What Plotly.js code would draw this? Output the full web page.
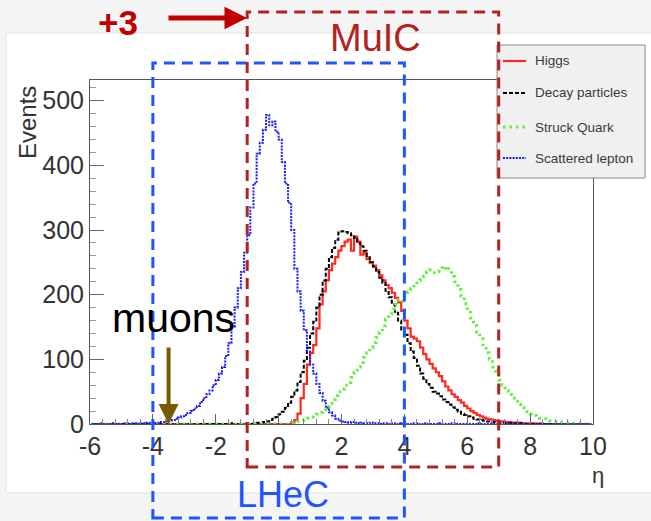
<!DOCTYPE html>
<html>
<head>
<meta charset="utf-8">
<script src="https://cdn.plot.ly/plotly-3.0.1.min.js"></script>
<style>html,body{margin:0;padding:0;background:#f5f5f5;}#chart{width:651px;height:521px;}</style>
</head>
<body>
<div id="chart"></div>
<script>
// ---- binning (160 bins of width 0.1 in eta from -6 to 10) ----
const etaLow = -6;
const etaBinWidth = 0.1;

// ---- series values (events per bin), rows = one unit of eta ----
const higgs = [
  0,0,0,0,0,0,0,0,0,0,
  0,0,0,0,0,0,0,0,0,0,
  0,0,0,0,0,0,0,0,0,0,
  0,0,0,0,0,0,0,0,0,0,
  0,0,0,0,0,0,0,0,0,0,
  0,0,0,0,0,0,0,0,0,0,
  0,0,0,0,2,6,16,40,62,92,
  110,122,148,185,205,222,238,248,258,268,
  275,282,285,268,290,282,262,265,255,250,
  245,238,230,222,215,210,203,195,188,175,
  160,148,135,132,128,118,108,100,93,86,
  80,74,66,58,52,46,42,37,33,28,
  24,20,17,14,12,10,8,7,6,5,
  4,4,3,3,2,2,2,1,1,1,
  1,1,0,1,0,0,0,0,0,0,
  0,0,0,0,0,0,0,0,0,0
];
const decayParticles = [
  0,0,0,0,0,0,0,0,0,0,
  0,0,0,0,0,0,0,0,0,0,
  0,0,0,0,0,0,0,0,0,0,
  0,0,0,0,0,0,0,0,0,0,
  0,0,0,0,0,1,0,0,0,1,
  1,0,1,2,2,3,4,6,8,11,
  15,19,25,33,42,52,65,80,98,118,
  140,158,180,200,222,240,258,272,285,296,
  298,297,295,292,288,280,275,268,258,250,
  243,235,226,218,206,196,185,172,160,146,
  138,125,112,102,90,78,70,62,56,50,
  47,43,38,34,30,26,22,19,16,14,
  12,10,8,7,6,5,4,4,3,2,
  2,2,1,1,1,1,0,1,0,0,
  0,0,0,0,0,0,0,0,0,0,
  0,0,0,0,0,0,0,0,0,0
];
const struckQuark = [
  0,0,0,0,0,0,0,0,0,0,
  0,0,0,0,0,0,0,0,0,0,
  0,0,0,0,0,0,0,0,0,0,
  0,0,0,0,0,0,0,0,0,0,
  0,0,0,0,0,0,0,0,0,0,
  0,0,0,0,0,0,0,0,0,0,
  0,0,0,0,1,2,4,6,7,9,
  11,13,15,18,22,26,32,38,44,50,
  54,60,64,72,80,88,95,103,110,118,
  126,134,142,152,162,170,178,185,192,190,
  198,204,210,216,222,228,232,236,238,234,
  236,240,244,238,240,228,220,208,198,186,
  176,164,152,142,132,120,110,100,88,78,
  68,60,52,46,40,35,30,26,22,19,
  16,13,11,9,8,6,5,4,4,3,
  2,2,2,1,1,1,1,0,1,0
];
const scatteredLepton = [
  0,0,0,1,0,0,0,1,0,0,
  0,1,0,1,1,0,1,1,2,1,
  2,2,3,3,4,5,6,8,10,12,
  14,17,20,24,28,34,40,46,52,60,
  68,78,88,105,125,150,180,210,235,265,
  292,335,372,418,435,455,478,462,468,452,
  440,405,372,342,300,240,205,175,145,112,
  92,78,62,48,36,25,18,13,8,5,
  4,3,2,3,2,1,2,1,1,2,
  1,1,0,1,1,0,1,0,1,0,
  1,0,0,1,0,0,1,0,0,0,
  0,1,0,0,0,1,0,0,0,0,
  0,0,0,1,0,0,0,0,0,0,
  0,0,0,0,0,0,1,0,0,0,
  0,0,0,0,0,0,0,0,0,0,
  0,0,0,0,0,0,0,0,0,0
];

const seriesNames = ['Higgs', 'Decay particles', 'Struck Quark', 'Scattered lepton'];
const xTickVals = [-6, -4, -2, 0, 2, 4, 6, 8, 10];
const xTickText = ['-6', '-4', '-2', '0', '2', '4', '6', '8', '10'];
const yTickVals = [0, 100, 200, 300, 400, 500];
const yTickText = ['0', '100', '200', '300', '400', '500'];
const lhecRange = [-4, 4];
const muicRange = [-1, 7];
const muonArrowEta = -3.5;

// ---- geometry helpers (layout in pixels -> paper coords) ----
const W = 651, H = 521;
const M = {l: 90, r: 58, t: 80, b: 97};
const pw = W - M.l - M.r, ph = H - M.t - M.b;
const xRange = [-6, 10];
const yRange = [0, 532];
const px = p => (p - M.l) / pw;
const py = p => (H - M.b - p) / ph;
const ex = eta => (eta - xRange[0]) / (xRange[1] - xRange[0]);

const etaCenters = higgs.map((_, i) => etaLow + (i + 0.5) * etaBinWidth);

const styles = [
  {color: '#ff2a1f', width: 2.2, dash: 'solid'},
  {color: '#000000', width: 2, dash: '4px,2px'},
  {color: '#66ee44', width: 3, dash: '2.5px,4px'},
  {color: '#1a1aff', width: 2, dash: '2px,1.2px'}
];
const values = [higgs, decayParticles, struckQuark, scatteredLepton];

const traces = values.map((v, k) => ({
  type: 'scatter', mode: 'lines', x: etaCenters, y: v,
  name: seriesNames[k], line: {shape: 'hvh', color: styles[k].color, width: styles[k].width, dash: styles[k].dash},
  showlegend: false, hoverinfo: 'skip', cliponaxis: true
}));

const FONT = 'Liberation Sans, Arial, sans-serif';
const shapes = [];
// white ROOT canvas
shapes.push({type: 'rect', xref: 'paper', yref: 'paper', layer: 'below',
  x0: px(6), x1: px(652), y0: py(493), y1: py(33),
  fillcolor: '#ffffff', line: {color: '#e2e2e2', width: 1}});
// legend box
shapes.push({type: 'rect', xref: 'paper', yref: 'paper',
  x0: px(497), x1: px(645), y0: py(178), y1: py(45),
  fillcolor: '#f0f0f0', line: {color: '#8c8c8c', width: 1}});
const legendY = [61, 93, 127, 158];
const annotations = [];
const txt = (x, y, text, size, color, extra) => Object.assign({xref: 'paper', yref: 'paper', x: px(x), y: py(y),
  xanchor: 'center', yanchor: 'middle', showarrow: false, text: text,
  font: {family: FONT, size: size, color: color}}, extra || {});
seriesNames.forEach((n, k) => {
  shapes.push({type: 'line', xref: 'paper', yref: 'paper',
    x0: px(503), x1: px(526), y0: py(legendY[k]), y1: py(legendY[k]),
    line: {color: styles[k].color, width: styles[k].width, dash: styles[k].dash}});
  annotations.push(txt(533, legendY[k], n, 13.5, '#3a3a3a', {xanchor: 'left'}));
});
// LHeC box
shapes.push({type: 'rect', xref: 'paper', yref: 'paper',
  x0: ex(lhecRange[0]), x1: ex(lhecRange[1]), y0: py(518), y1: py(63),
  line: {color: '#1f55ff', width: 3, dash: '11px,7px'}, fillcolor: 'rgba(0,0,0,0)'});
// MuIC box
shapes.push({type: 'rect', xref: 'paper', yref: 'paper',
  x0: ex(muicRange[0]), x1: ex(muicRange[1]), y0: py(467), y1: py(12),
  line: {color: '#b3221e', width: 3, dash: '11px,7px'}, fillcolor: 'rgba(0,0,0,0)'});

// texts
annotations.push(txt(27, 123, 'Events', 24, '#333', {textangle: -90}));
annotations.push(txt(598, 475, 'η', 22, '#333'));
annotations.push(txt(375, 38, 'MuIC', 38, '#b3221e'));
annotations.push(txt(283, 494, 'LHeC', 36, '#1f55ff'));
annotations.push(txt(173, 318, 'muons', 41, '#000'));
annotations.push(txt(118, 23, '<b>+3</b>', 35, '#c00000'));
// arrows
annotations.push({xref: 'paper', yref: 'paper', x: px(247), y: py(18), ax: -80, ay: 0,
  showarrow: true, text: '', arrowhead: 2, arrowsize: 0.9, arrowwidth: 5, arrowcolor: '#c00000', standoff: 0});
annotations.push({xref: 'x', yref: 'y', x: muonArrowEta, y: 0, ax: 0, ay: -78,
  showarrow: true, text: '', arrowhead: 2, arrowsize: 1, arrowwidth: 4, arrowcolor: '#7a5a00', standoff: 0});

const axisFont = {family: FONT, size: 25, color: '#333'};
const layout = {
  width: W, height: H, margin: M,
  paper_bgcolor: '#f5f5f5', plot_bgcolor: '#ffffff',
  font: {family: FONT},
  xaxis: {range: xRange, showgrid: false, zeroline: false, showline: true, linecolor: '#555', linewidth: 1, mirror: true,
    tickmode: 'array', tickvals: xTickVals, ticktext: xTickText, ticks: 'inside', ticklen: 10, tickcolor: '#666', tickwidth: 1,
    tickfont: axisFont, minor: {dtick: 0.4, ticks: 'inside', ticklen: 5, tickcolor: '#888', showgrid: false}},
  yaxis: {range: yRange, showgrid: false, zeroline: false, showline: true, linecolor: '#555', linewidth: 1, mirror: true,
    tickmode: 'array', tickvals: yTickVals, ticktext: yTickText, ticks: 'inside', ticklen: 14, tickcolor: '#666', tickwidth: 1,
    tickfont: axisFont, minor: {dtick: 20, ticks: 'inside', ticklen: 6, tickcolor: '#999', showgrid: false}},
  shapes: shapes, annotations: annotations, showlegend: false
};
Plotly.newPlot('chart', traces, layout, {displayModeBar: false, staticPlot: true});
</script>
</body>
</html>
